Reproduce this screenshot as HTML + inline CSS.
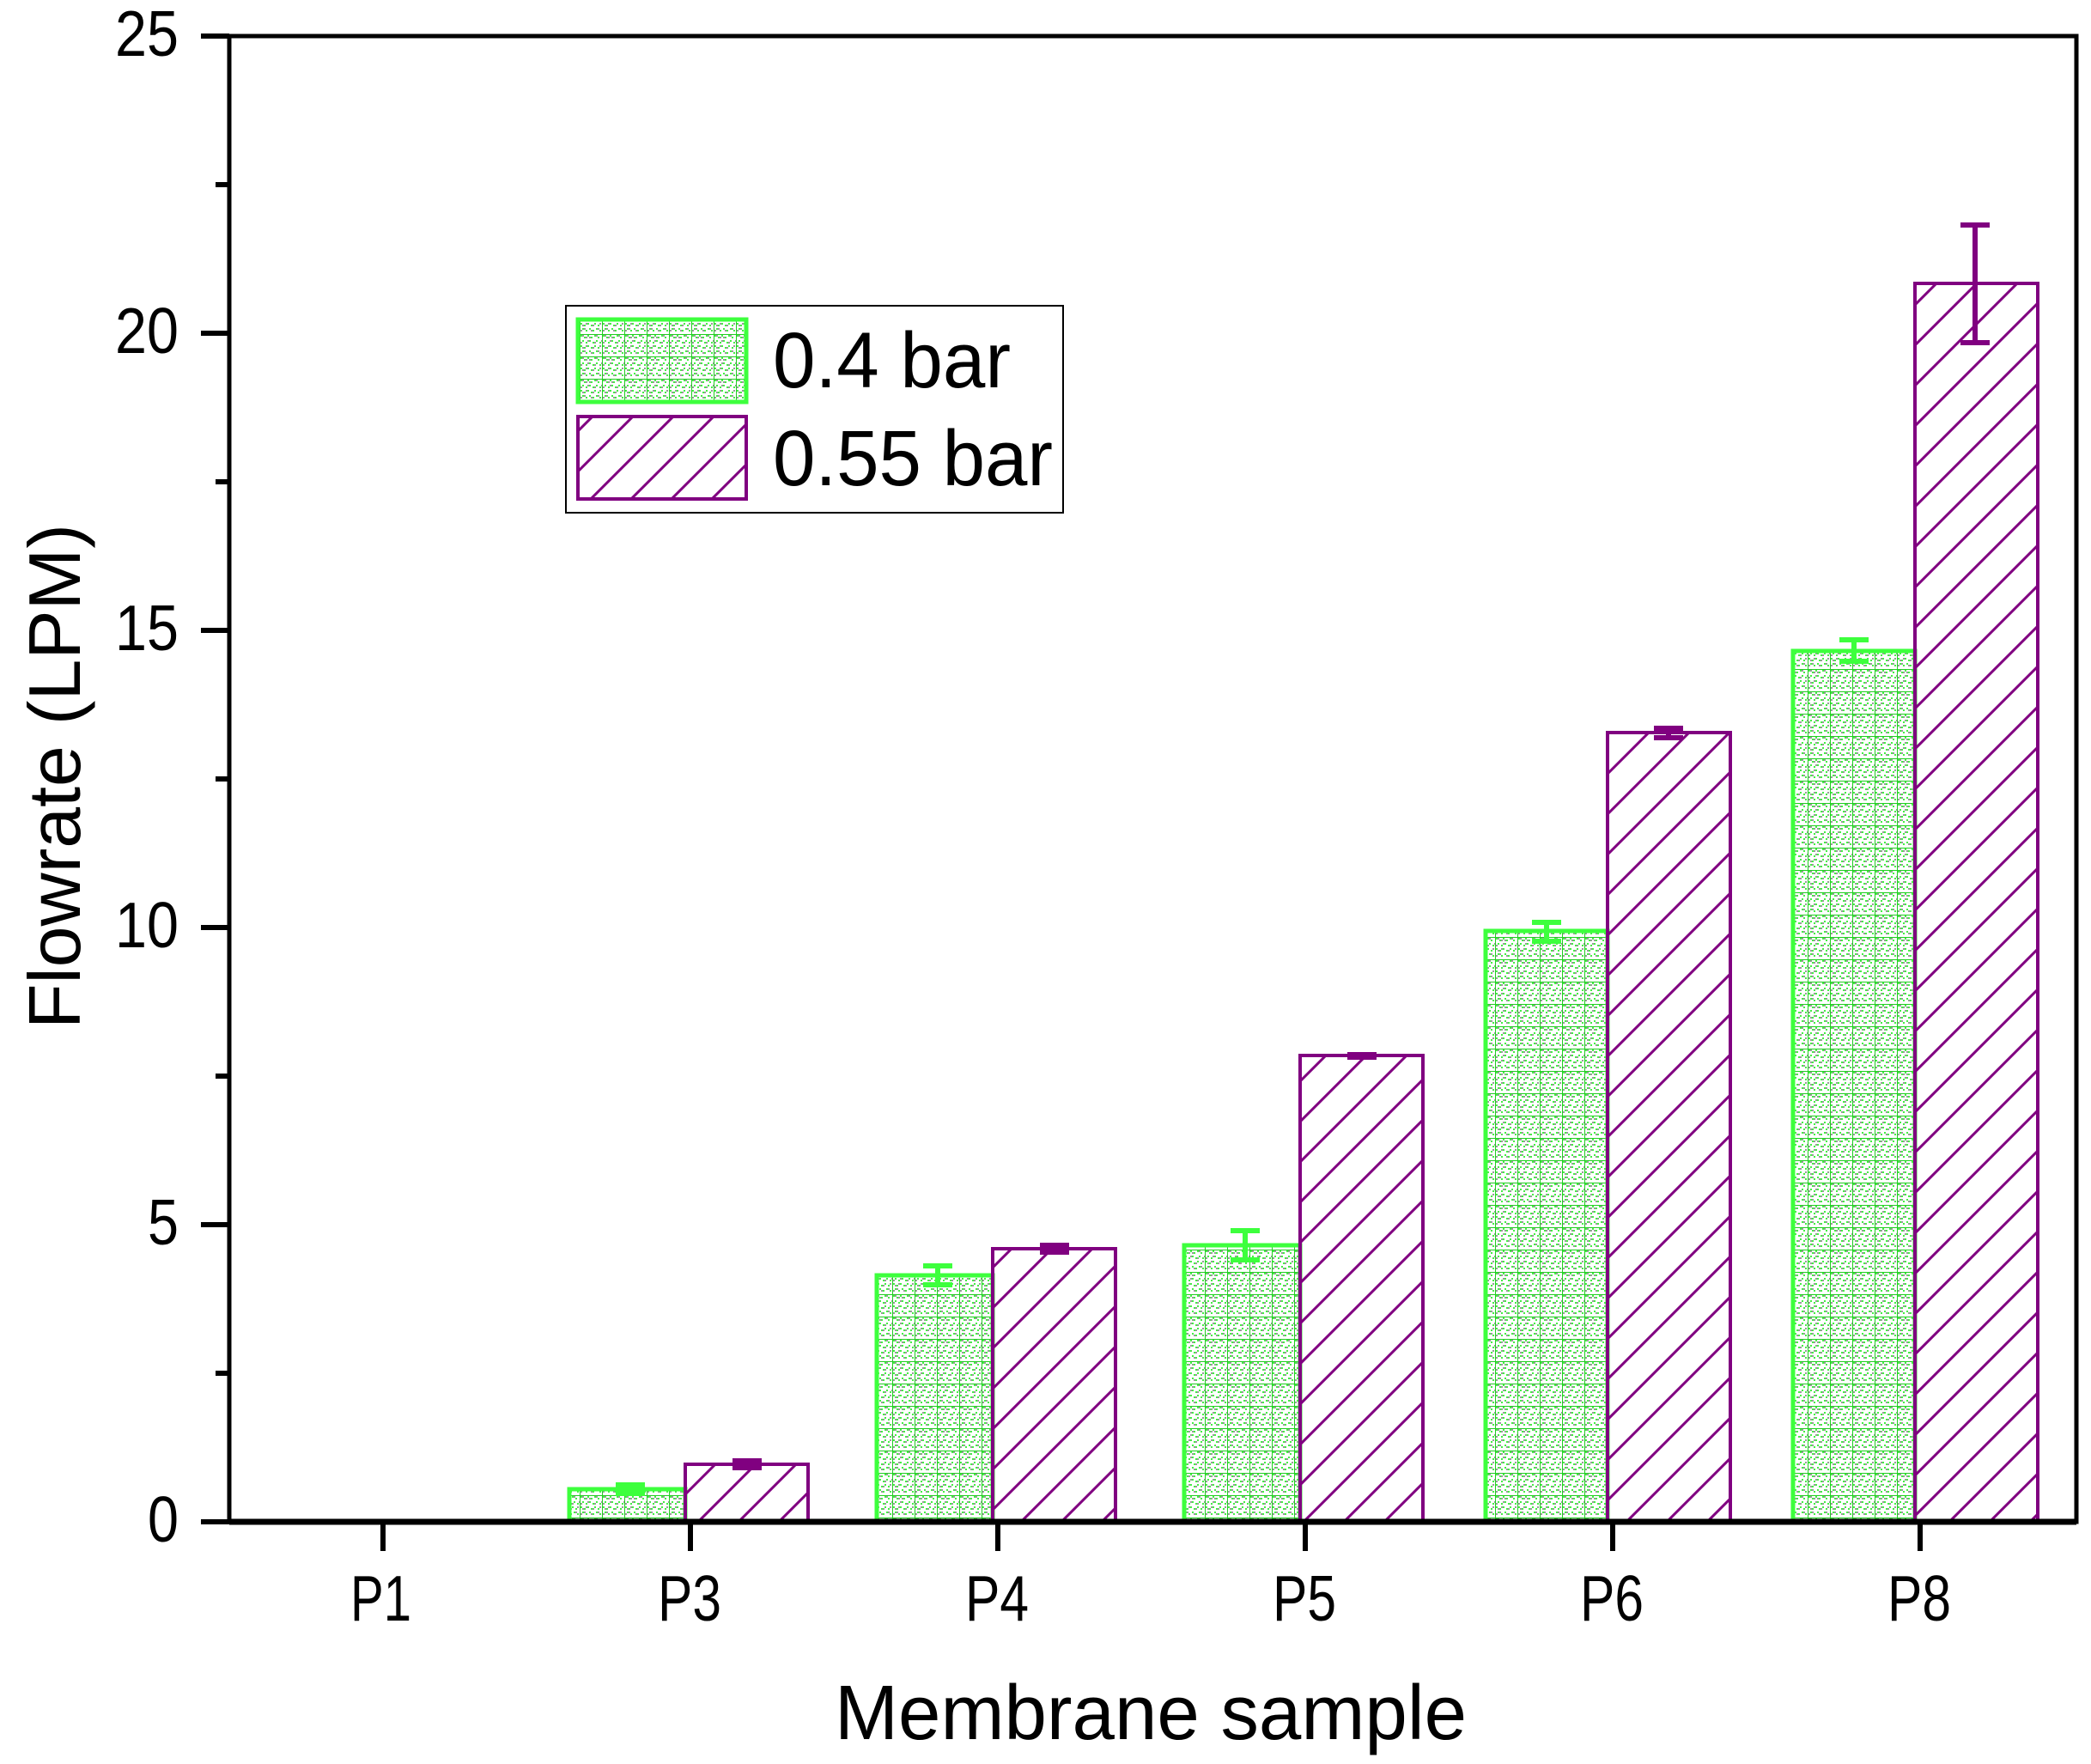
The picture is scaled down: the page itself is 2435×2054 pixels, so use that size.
<!DOCTYPE html>
<html><head><meta charset="utf-8"><style>
html,body{margin:0;padding:0;background:#fff;}
svg{display:block;}
text{font-family:"Liberation Sans",Arial,sans-serif;fill:#000;}
</style></head><body>
<svg width="2435" height="2054" viewBox="0 0 2435 2054" xmlns="http://www.w3.org/2000/svg">
<defs>
<pattern id="dots" patternUnits="userSpaceOnUse" width="26" height="26">
<rect width="26" height="26" fill="#fff"/>
<g fill="#44ee44">
<rect x="0" y="0" width="2" height="2"/><rect x="4" y="2" width="2" height="2"/><rect x="8" y="0" width="2" height="2"/><rect x="12" y="2" width="2" height="2"/><rect x="16" y="0" width="2" height="2"/><rect x="20" y="2" width="2" height="2"/>
<rect x="2" y="6" width="2" height="2"/><rect x="6" y="8" width="2" height="2"/><rect x="10" y="6" width="2" height="2"/><rect x="14" y="8" width="2" height="2"/><rect x="18" y="6" width="2" height="2"/><rect x="22" y="8" width="2" height="2"/>
<rect x="0" y="12" width="2" height="2"/><rect x="4" y="14" width="2" height="2"/><rect x="8" y="12" width="2" height="2"/><rect x="12" y="14" width="2" height="2"/><rect x="16" y="12" width="2" height="2"/><rect x="20" y="14" width="2" height="2"/>
<rect x="2" y="18" width="2" height="2"/><rect x="6" y="20" width="2" height="2"/><rect x="10" y="18" width="2" height="2"/><rect x="14" y="20" width="2" height="2"/><rect x="18" y="18" width="2" height="2"/><rect x="22" y="20" width="2" height="2"/>
</g>
<g fill="#999">
<rect x="2" y="0" width="2" height="2"/><rect x="10" y="2" width="2" height="2"/><rect x="18" y="0" width="2" height="2"/><rect x="6" y="2" width="2" height="2"/>
<rect x="0" y="8" width="2" height="2"/><rect x="8" y="6" width="2" height="2"/><rect x="16" y="8" width="2" height="2"/><rect x="24" y="6" width="2" height="2"/>
<rect x="6" y="12" width="2" height="2"/><rect x="14" y="14" width="2" height="2"/><rect x="22" y="12" width="2" height="2"/><rect x="2" y="14" width="2" height="2"/>
<rect x="4" y="18" width="2" height="2"/><rect x="12" y="20" width="2" height="2"/><rect x="20" y="18" width="2" height="2"/><rect x="0" y="20" width="2" height="2"/>
</g>
<rect x="0" y="25" width="26" height="1" fill="#22cc22"/>
<rect x="25" y="0" width="1" height="26" fill="#22cc22"/>
</pattern>
<pattern id="hatch" patternUnits="userSpaceOnUse" width="47" height="47">
<line x1="-5" y1="52" x2="52" y2="-5" stroke="#800080" stroke-width="3"/>
<line x1="-5" y1="5" x2="5" y2="-5" stroke="#800080" stroke-width="3"/>
<line x1="42" y1="52" x2="52" y2="42" stroke="#800080" stroke-width="3"/>
</pattern>
</defs>

<!-- bars: y0=1772, 69.2px/unit -->
<g stroke="#3dff3d" stroke-width="5" fill="url(#dots)">
<rect x="663" y="1734" width="135" height="38"/>
<rect x="1021" y="1485" width="135" height="287"/>
<rect x="1379" y="1450" width="135" height="322"/>
<rect x="1730" y="1084" width="142" height="688"/>
<rect x="2088" y="758" width="142" height="1014"/>
</g>
<g stroke="#800080" stroke-width="4" fill="url(#hatch)">
<rect x="798" y="1705" width="143" height="67"/>
<rect x="1156" y="1454" width="143" height="318"/>
<rect x="1514" y="1229" width="143" height="543"/>
<rect x="1872" y="853" width="143" height="919"/>
<rect x="2230" y="330" width="143" height="1442"/>
</g>

<!-- error bars green -->
<g stroke="#3dff3d" stroke-width="6" fill="none">
<path d="M734 1729V1739M717 1729H751M717 1739H751"/>
<path d="M1092 1474V1496M1075 1474H1109M1075 1496H1109"/>
<path d="M1450 1433V1467M1433 1433H1467M1433 1467H1467"/>
<path d="M1801 1074V1096M1784 1074H1818M1784 1096H1818"/>
<path d="M2159 745V770M2142 745H2176M2142 770H2176"/>
</g>
<g stroke="#800080" stroke-width="6" fill="none">
<path d="M870 1701V1709M853 1701H887M853 1709H887"/>
<path d="M1228 1450V1458M1211 1450H1245M1211 1458H1245"/>
<path d="M1586 1228V1231M1569 1228H1603M1569 1231H1603"/>
<path d="M1943 848V859M1926 848H1960M1926 859H1960"/>
<path d="M2300 262V399M2283 262H2317M2283 399H2317"/>
</g>

<!-- axes -->
<g stroke="#000" fill="none">
<rect x="267" y="42" width="2151" height="1730" stroke-width="5"/>
<line x1="267" y1="1772" x2="2418" y2="1772" stroke-width="7"/>
<path d="M234 42H267M234 388H267M234 734H267M234 1080H267M234 1426H267M234 1772H267" stroke-width="6"/>
<path d="M251 215H267M251 561H267M251 907H267M251 1253H267M251 1599H267" stroke-width="6"/>
<path d="M446 1772V1806M804 1772V1806M1162 1772V1806M1520 1772V1806M1878 1772V1806M2236 1772V1806" stroke-width="6"/>
</g>

<g font-size="75" text-anchor="end">
<text x="208" y="65" textLength="74" lengthAdjust="spacingAndGlyphs">25</text>
<text x="208" y="411" textLength="74" lengthAdjust="spacingAndGlyphs">20</text>
<text x="208" y="757" textLength="74" lengthAdjust="spacingAndGlyphs">15</text>
<text x="208" y="1103" textLength="74" lengthAdjust="spacingAndGlyphs">10</text>
<text x="208" y="1449" textLength="36" lengthAdjust="spacingAndGlyphs">5</text>
<text x="208" y="1795" textLength="36" lengthAdjust="spacingAndGlyphs">0</text>
</g>
<g font-size="75">
<text x="408" y="1887" textLength="71" lengthAdjust="spacingAndGlyphs">P1</text>
<text x="766" y="1887" textLength="74" lengthAdjust="spacingAndGlyphs">P3</text>
<text x="1124" y="1887" textLength="74" lengthAdjust="spacingAndGlyphs">P4</text>
<text x="1482" y="1887" textLength="74" lengthAdjust="spacingAndGlyphs">P5</text>
<text x="1840" y="1887" textLength="74" lengthAdjust="spacingAndGlyphs">P6</text>
<text x="2198" y="1887" textLength="74" lengthAdjust="spacingAndGlyphs">P8</text>
</g>
<text x="972" y="2025" font-size="90" textLength="736" lengthAdjust="spacingAndGlyphs">Membrane sample</text>
<text transform="translate(93,1198) rotate(-90)" font-size="85" textLength="588" lengthAdjust="spacingAndGlyphs">Flowrate (LPM)</text>

<!-- legend -->
<rect x="659" y="356" width="579" height="241" fill="#fff" stroke="#000" stroke-width="2"/>
<rect x="673" y="372" width="196" height="96" fill="url(#dots)" stroke="#3dff3d" stroke-width="5"/>
<rect x="673" y="485" width="196" height="96" fill="url(#hatch)" stroke="#800080" stroke-width="4"/>
<text x="900" y="451" font-size="92" textLength="277" lengthAdjust="spacingAndGlyphs">0.4 bar</text>
<text x="900" y="565" font-size="92" textLength="326" lengthAdjust="spacingAndGlyphs">0.55 bar</text>
</svg>
</body></html>
